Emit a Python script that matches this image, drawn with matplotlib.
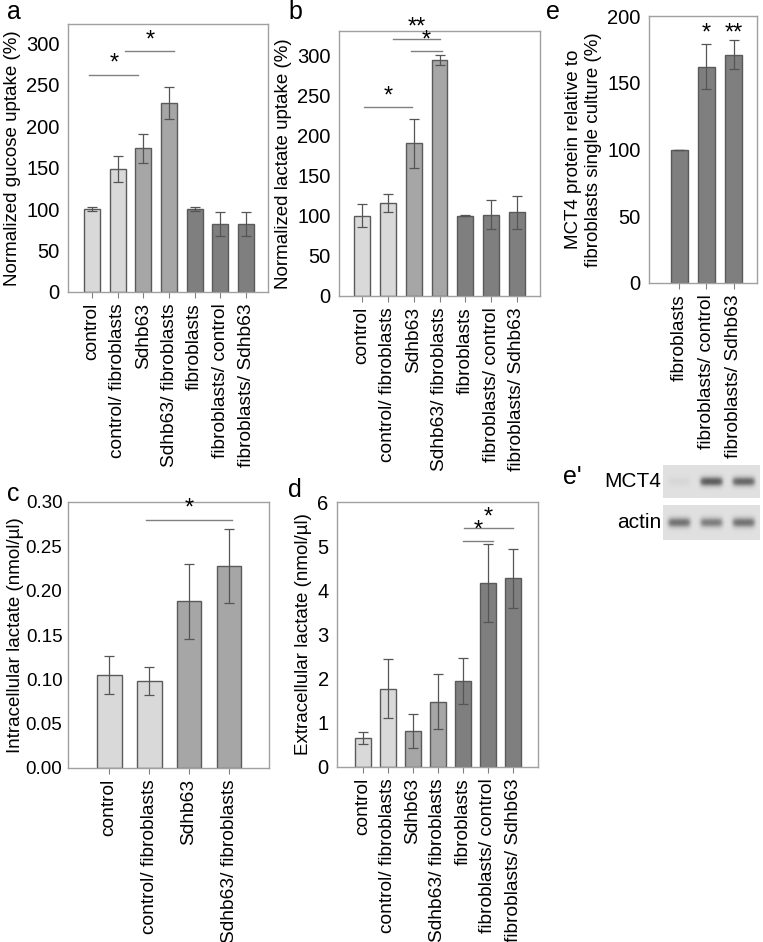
import numpy as np
import matplotlib.pyplot as plt

plt.rcParams['font.family'] = ['Liberation Sans', 'DejaVu Sans']

# Panel a / b / d categories
groups7 = ["control", "control/ fibroblasts", "Sdhb63", "Sdhb63/ fibroblasts",
           "fibroblasts", "fibroblasts/ control", "fibroblasts/ Sdhb63"]
groups4 = groups7[:4]
groups3 = groups7[4:]

# a: glucose uptake (%)
gluc = [100, 148, 173, 228, 100, 82, 82]
gluc_err = [2, 16, 17, 19, 2, 15, 15]
# b: lactate uptake (%)
lact = [100, 116, 190, 294, 100, 101, 104]
lact_err = [14, 11, 30, 6, 0.5, 18, 21]
# c: intracellular lactate (nmol/ul)
intra = [0.105, 0.098, 0.188, 0.228]
intra_err = [0.021, 0.016, 0.042, 0.042]
# d: extracellular lactate (nmol/ul)
extra = [0.66, 1.77, 0.82, 1.48, 1.95, 4.16, 4.27]
extra_err = [0.14, 0.67, 0.38, 0.62, 0.52, 0.88, 0.67]
# e: MCT4 protein (%)
mct4 = [100, 162, 171]
mct4_err = [0, 17, 11]
# e': blot band intensities (0..1)
mct4_band = [0.06, 0.6, 0.55]
actin_band = [0.5, 0.45, 0.5]

LIGHT, MED, DARK = "#d9d9d9", "#a6a6a6", "#7f7f7f"
cols7 = [LIGHT, LIGHT, MED, MED, DARK, DARK, DARK]
cols4 = cols7[:4]
cols3 = cols7[4:]

W, H = 763, 942
fig = plt.figure(figsize=(W / 100, H / 100), dpi=100)


def add_ax(left, right, top, bottom):
    return fig.add_axes([left / W, 1 - bottom / H, (right - left) / W, (bottom - top) / H])


def bar_panel(ax, labels, vals, errs, colors, ylim, yticks, ylabel, fmt="{:g}", ysize=14.5):
    x = np.arange(len(vals))
    ax.bar(x, vals, width=0.62, color=colors, edgecolor="#5a5a5a", linewidth=1.0, zorder=2)
    ax.errorbar(x, vals, yerr=errs, fmt="none", ecolor="#555555", elinewidth=0.9,
                capsize=3.5, capthick=0.9, zorder=3)
    ax.set_ylim(*ylim)
    ax.set_yticks(yticks)
    ax.set_yticklabels([fmt.format(t) for t in yticks], fontsize=ysize)
    ax.set_xticks(x)
    ax.set_xticklabels(labels, rotation=90, fontsize=13.8)
    ax.set_ylabel(ylabel, fontsize=13.5, labelpad=4)
    for s in ax.spines.values():
        s.set_color("#a0a0a0")
        s.set_linewidth(1.0)
    ax.tick_params(axis="y", length=0, pad=6)
    ax.tick_params(axis="x", length=4, color="#808080", pad=4)


def sig(ax, x0, x1, y, text):
    ax.plot([x0, x1], [y, y], color="#808080", lw=1.0, zorder=4)
    ax.text((x0 + x1) / 2, y, text, ha="center", va="bottom", fontsize=17, zorder=4)


# a
ax = add_ax(68, 268, 24, 292)
bar_panel(ax, groups7, gluc, gluc_err, cols7, (0, 323), range(0, 301, 50),
          "Normalized gucose uptake (%)")
ax.set_xlim(-0.93, 6.85)
sig(ax, -0.1, 1.8, 262, "*")
sig(ax, 1.3, 3.2, 290, "*")

# b
ax = add_ax(339, 540, 31, 296)
bar_panel(ax, groups7, lact, lact_err, cols7, (0, 330), range(0, 301, 50),
          "Normalized lactate uptake (%)")
ax.set_xlim(-0.9, 6.9)
sig(ax, 0.08, 1.94, 235, "*")
sig(ax, 1.2, 3.0, 320, "**")
sig(ax, 1.9, 3.1, 305, "*")

# e
ax = add_ax(649, 757, 16, 283)
bar_panel(ax, groups3, mct4, mct4_err, cols3[:1] * 3, (0, 200), range(0, 201, 50),
          "MCT4 protein relative to\nfibroblasts single culture (%)")
ax.set_xlim(-1.1, 2.85)
ax.text(1, 179, "*", ha="center", va="bottom", fontsize=17)
ax.text(2, 179, "**", ha="center", va="bottom", fontsize=17)

# c
ax = add_ax(68, 269, 502, 768)
bar_panel(ax, groups4, intra, intra_err, cols4, (0, 0.30), np.arange(0, 0.31, 0.05),
          "Intracellular lactate (nmol/\u00b5l)", fmt="{:.2f}", ysize=13.5)
ax.tick_params(axis="y", pad=4)
ax.yaxis.labelpad = 1
ax.set_xlim(-1.03, 4.0)
sig(ax, 0.92, 3.08, 0.28, "*")

# d
ax = add_ax(337, 538, 502, 767)
bar_panel(ax, groups7, extra, extra_err, cols7, (0, 6), range(0, 7),
          "Extracellular lactate (nmol/\u00b5l)")
ax.set_xlim(-1.04, 7.0)
sig(ax, 4.0, 5.2, 5.11, "*")
sig(ax, 4.04, 6.0, 5.41, "*")


# e' blot
def blot(ax, bands, label):
    xs = np.linspace(0, 3, 300)
    ys = np.linspace(-1, 1, 60)
    X, Y = np.meshgrid(xs, ys)
    img = np.zeros_like(X)
    for i, b in enumerate(bands):
        lane = np.exp(-((X - (i + 0.5)) / 0.36) ** 6)
        img += b * lane * np.exp(-(Y / 0.3) ** 2)
    ax.imshow(img, cmap="Greys", vmin=-0.25, vmax=0.95, aspect="auto",
              extent=(0, 3, -1, 1))
    ax.set_xticks([])
    ax.set_yticks([])
    for s in ax.spines.values():
        s.set_visible(False)
    ax.text(-0.02, 0.5, label, transform=ax.transAxes, ha="right", va="center", fontsize=15)


blot(add_ax(663, 760, 465, 498), mct4_band, "MCT4")
blot(add_ax(663, 760, 505, 540), actin_band, "actin")

# panel letters
for lbl, px, py in [("a", 14, 12), ("b", 295, 12), ("e", 553, 12),
                    ("c", 13, 494), ("d", 295, 490), ("e'", 572, 477)]:
    fig.text(px / W, 1 - py / H, lbl, fontsize=18, ha="center", va="center")

fig.savefig("out.png", dpi=100)
